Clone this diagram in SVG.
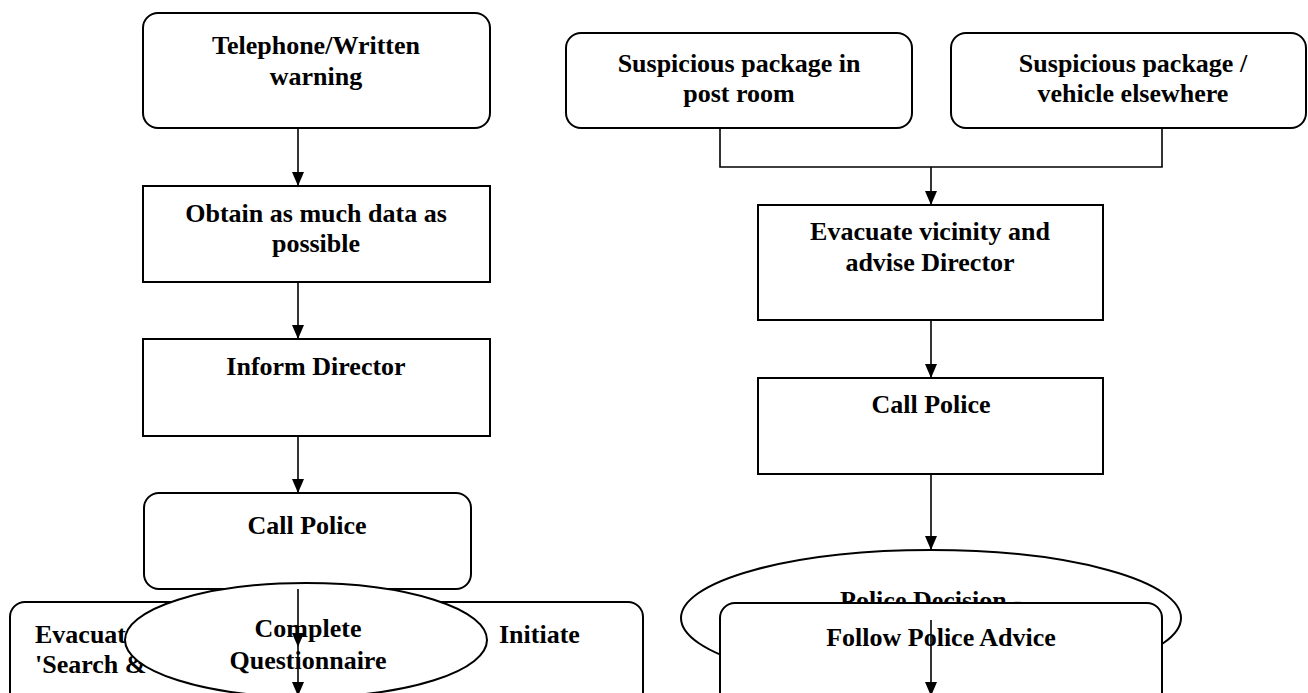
<svg xmlns="http://www.w3.org/2000/svg" width="1308" height="693" viewBox="0 0 1308 693">
<defs>
<marker id="ah" viewBox="0 0 14 12" refX="14" refY="6" markerWidth="14" markerHeight="12" markerUnits="userSpaceOnUse" orient="auto">
<path d="M0,0 L14,6 L0,12 z" fill="#000"/>
</marker>
<style>
.box{fill:#fff;stroke:#000;stroke-width:2}
.t{font-family:"Liberation Serif","Times New Roman",serif;font-weight:bold;font-size:26px;fill:#000}
.c{text-anchor:middle}
.ln{fill:none;stroke:#000;stroke-width:1.6}
.ar{fill:none;stroke:#000;stroke-width:1.6;marker-end:url(#ah)}
</style>
</defs>
<rect width="1308" height="693" fill="#fff"/>

<g id="n-telephone">
<rect class="box" x="143" y="13" width="347" height="115" rx="15"/>
<text class="t c" x="316" y="54">Telephone/Written</text>
<text class="t c" x="316" y="85">warning</text>
</g>
<g id="n-obtain">
<rect class="box" x="143" y="186" width="347" height="96"/>
<text class="t c" x="316" y="222">Obtain as much data as</text>
<text class="t c" x="316" y="252">possible</text>
</g>
<g id="n-inform">
<rect class="box" x="143" y="339" width="347" height="97"/>
<text class="t c" x="316" y="375">Inform Director</text>
</g>
<g id="n-evacuate-search">
<rect class="box" x="10" y="602" width="633" height="130" rx="15"/>
<text class="t" x="35" y="643">Evacuat</text>
<text class="t" x="35" y="673">'Search &amp;</text>
<text class="t" x="499" y="643">Initiate</text>
</g>
<g id="n-callpolice-left">
<rect class="box" x="144" y="493" width="327" height="96" rx="15"/>
<text class="t c" x="307" y="534">Call Police</text>
</g>
<g id="n-questionnaire">
<ellipse class="box" cx="306" cy="640" rx="181" ry="57"/>
<text class="t c" x="308" y="637">Complete</text>
<text class="t c" x="308" y="669">Questionnaire</text>
</g>

<g id="n-postroom">
<rect class="box" x="566" y="33" width="346" height="95" rx="15"/>
<text class="t c" x="739" y="72">Suspicious package in</text>
<text class="t c" x="739" y="102">post room</text>
</g>
<g id="n-elsewhere">
<rect class="box" x="951" y="33" width="355" height="95" rx="15"/>
<text class="t c" x="1133" y="72">Suspicious package /</text>
<text class="t c" x="1133" y="102">vehicle elsewhere</text>
</g>
<g id="n-evacuate-vicinity">
<rect class="box" x="758" y="205" width="345" height="115"/>
<text class="t c" x="930" y="240">Evacuate vicinity and</text>
<text class="t c" x="930" y="271">advise Director</text>
</g>
<g id="n-callpolice-right">
<rect class="box" x="758" y="378" width="345" height="96"/>
<text class="t c" x="931" y="413">Call Police</text>
</g>
<g id="n-decision">
<ellipse class="box" cx="931" cy="618" rx="250" ry="68"/>
<text class="t c" x="931" y="609">Police Decision -</text>
</g>
<g id="n-follow">
<rect class="box" x="720" y="603" width="442" height="130" rx="15"/>
<text class="t c" x="941" y="646">Follow Police Advice</text>
</g>

<g id="connectors">
<line class="ar" x1="298" y1="128" x2="298" y2="186"/>
<line class="ar" x1="298" y1="282" x2="298" y2="339"/>
<line class="ar" x1="298" y1="436" x2="298" y2="493"/>
<line class="ar" x1="298" y1="589" x2="298" y2="647"/>
<line class="ar" x1="298" y1="647" x2="298" y2="696"/>
<polyline class="ln" points="720,128 720,167 1162,167 1162,128"/>
<line class="ar" x1="931" y1="167" x2="931" y2="205"/>
<line class="ar" x1="931" y1="320" x2="931" y2="378"/>
<line class="ar" x1="931" y1="474" x2="931" y2="550"/>
<line class="ar" x1="931" y1="620" x2="931" y2="696"/>
</g>
</svg>
